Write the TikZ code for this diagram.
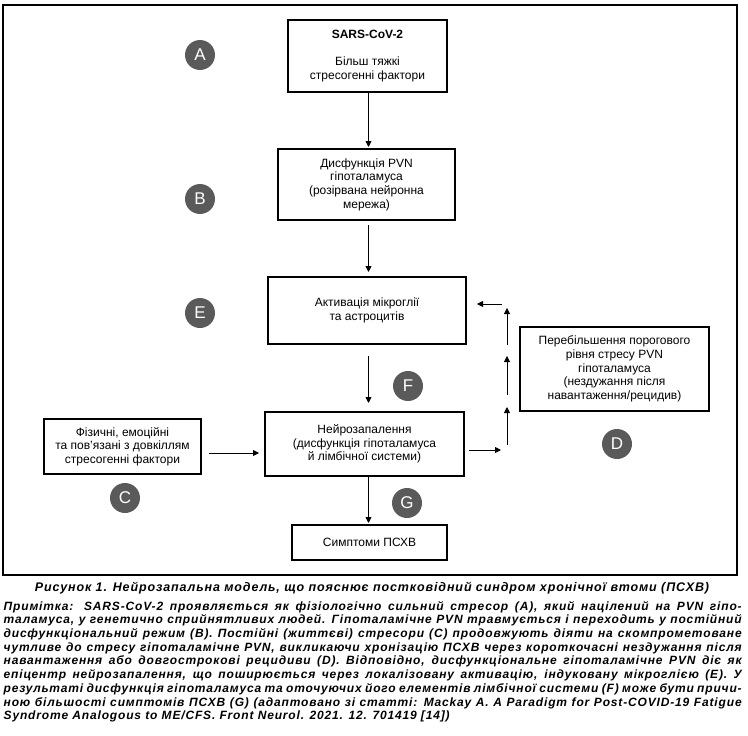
\documentclass[tikz,border=0pt]{standalone}
\usepackage{fontspec}
\setmainfont{Liberation Sans}
\newfontfamily\capfont[LetterSpace=7]{Liberation Sans}
\usetikzlibrary{arrows.meta,calc}
\definecolor{badgegray}{HTML}{5A5A5A}
\tikzset{
  box/.style={draw, line width=2.2pt, align=center, inner sep=2pt,
    font=\fontsize{12}{13.7}\selectfont},
  badge/.style={circle, fill=badgegray, text=white, minimum size=30pt,
    inner sep=0pt, font=\fontsize{17}{17}\selectfont},
  arr/.style={line width=0.9pt, -{Triangle[length=6pt,width=6pt]}},
  captxt/.style={font=\fontsize{12}{13.7}\capfont\bfseries\itshape, inner sep=0pt},
  titletxt/.style={font=\fontsize{12.5}{13.7}\capfont\bfseries\itshape, inner sep=0pt},
}
\begin{document}
\begin{tikzpicture}[x=1pt,y=-1pt]
\useasboundingbox (0,0) rectangle (748,736);
\fill[white] (0,0) rectangle (748,736);
\draw[line width=1.2pt] (3,5) rectangle (737,575);

\coordinate (vx) at (368.5,0);

\node[box, minimum width=158.8pt, minimum height=71.8pt] (A) at (367.5,56)
  {\textbf{SARS-CoV-2}\\[13.7pt]Більш тяжкі\\стресогенні фактори};
\node[box, minimum width=176.8pt, minimum height=70.8pt] (B) at (366.5,184.5)
  {Дисфункція PVN\\гіпоталамуса\\(розірвана нейронна\\мережа)};
\node[box, minimum width=197.8pt, minimum height=66.8pt] (E) at (367,310.5)
  {Активація мікроглії\\та астроцитів};
\node[box, minimum width=198.8pt, minimum height=63.8pt] (N) at (364.5,444)
  {Нейрозапалення\\(дисфункція гіпоталамуса\\й лімбічної системи)};
\node[box, minimum width=156.8pt, minimum height=54.8pt] (C) at (122.5,446.5)
  {Фізичні, емоційні\\та пов'язані з довкіллям\\стресогенні фактори};
\node[box, minimum width=188.8pt, minimum height=83.8pt] (D) at (614.5,369)
  {Перебільшення порогового\\рівня стресу PVN\\гіпоталамуса\\(нездужання після\\навантаження/рецидив)};
\node[box, minimum width=154.8pt, minimum height=34.8pt] (G) at (369.5,542.5)
  {Симптоми ПСХВ};

\node[badge] (bA) at (200,55) {A};
\node[badge] (bB) at (200,199) {B};
\node[badge] (bE) at (200,313) {E};
\node[badge] (bF) at (408,386) {F};
\node[badge] (bC) at (125,498) {C};
\node[badge] (bD) at (617,444) {D};
\node[badge] (bG) at (407,503) {G};

\draw[arr, shorten >=1pt] (A.south -| vx) -- (B.north -| vx);
\draw[arr, shorten <=4pt, shorten >=4pt] (B.south -| vx) -- (E.north -| vx);
\draw[arr, shorten <=11pt, shorten >=8pt] (E.south -| vx) -- (N.north -| vx);
\draw[arr, shorten >=1pt] (N.south -| vx) -- (G.north -| vx);

\coordinate (cy) at (0,453);
\draw[arr, shorten <=7pt, shorten >=5pt] (C.east |- cy) -- (N.west |- cy);

\coordinate (d0) at (501,450);
\coordinate (d1s) at (507,445);
\coordinate (d1e) at (507,407);
\coordinate (d2s) at (507,395);
\coordinate (d2e) at (507,356);
\coordinate (d3s) at (507,345);
\coordinate (d3e) at (507,308);
\coordinate (d4s) at (502,304);
\draw[arr, shorten <=4pt] (N.east |- d0) -- (d0);
\draw[arr] (d1s) -- (d1e);
\draw[arr] (d2s) -- (d2e);
\draw[arr] (d3s) -- (d3e);
\draw[arr, shorten >=10pt] (d4s) -- (E.east |- d4s);

\node[titletxt] (cap) at (372,588)
  {Рисунок 1. Нейрозапальна модель, що пояснює постковідний синдром хронічної втоми (ПСХВ)};
\node[captxt, anchor=north west, text width=738pt, align=justify] (note) at (3.5,601)
  {Примітка: SARS-CoV-2 проявляється як фізіологічно сильний стресор (A), який націлений на PVN гіпо-\linebreak
  таламуса, у генетично сприйнятливих людей. Гіпоталамічне PVN травмується і переходить у постійний\linebreak
  дисфункціональний режим (B). Постійні (життєві) стресори (C) продовжують діяти на скомпрометоване\linebreak
  чутливе до стресу гіпоталамічне PVN, викликаючи хронізацію ПСХВ через короткочасні нездужання після\linebreak
  навантаження або довгострокові рецидиви (D). Відповідно, дисфункціональне гіпоталамічне PVN діє як\linebreak
  епіцентр нейрозапалення, що поширюється через локалізовану активацію, індуковану мікроглією (E). У\linebreak
  результаті дисфункція гіпоталамуса та оточуючих його елементів лімбічної системи (F) може бути причи-\linebreak
  ною більшості симптомів ПСХВ (G) (адаптовано зі статті: Mackay A. A Paradigm for Post-COVID-19 Fatigue\linebreak
  Syndrome Analogous to ME/CFS. Front Neurol. 2021. 12. 701419 [14])};
\end{tikzpicture}
\end{document}
